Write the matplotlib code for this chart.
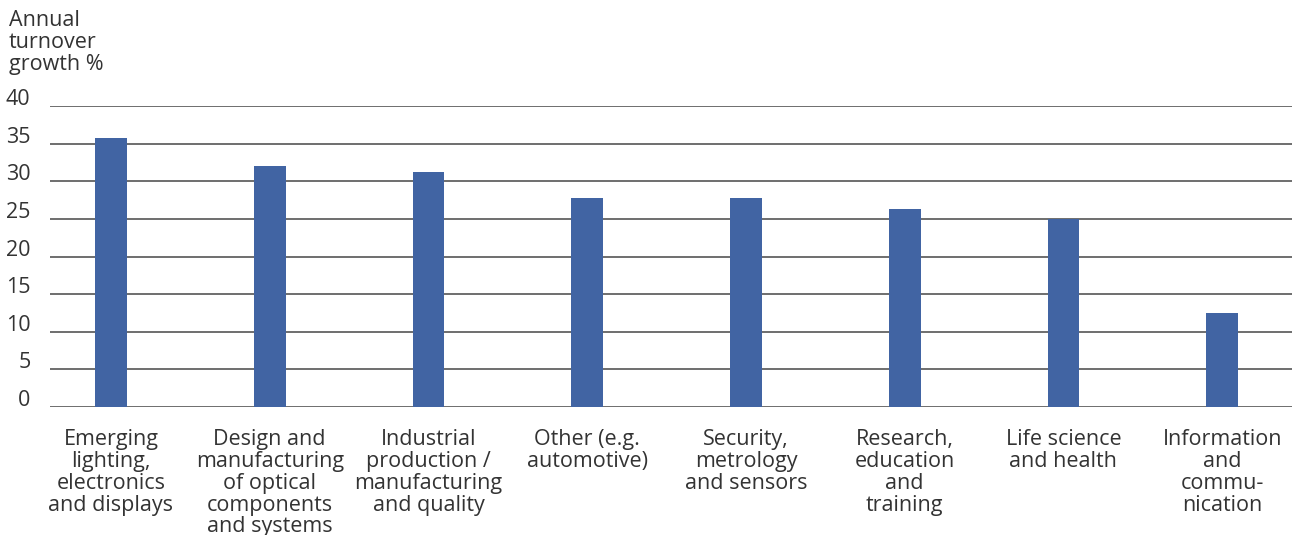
import numpy as np
import matplotlib.pyplot as plt
from matplotlib.transforms import ScaledTranslation

plt.rcParams['font.family'] = ['Open Sans', 'DejaVu Sans']

categories = [
    "Emerging\nlighting,\nelectronics\nand displays",
    "Design and\nmanufacturing\nof optical\ncomponents\nand systems",
    "Industrial\nproduction /\nmanufacturing\nand quality",
    "Other (e.g.\nautomotive)",
    "Security,\nmetrology\nand sensors",
    "Research,\neducation\nand\ntraining",
    "Life science\nand health",
    "Information\nand\ncommu-\nnication",
]
growth = [35.8, 32.0, 31.2, 27.8, 27.8, 26.3, 25.0, 12.5]
yticks = [0, 5, 10, 15, 20, 25, 30, 35, 40]

BAR_COLOR = "#4164a3"
TEXT_COLOR = "#333333"
FS = 15.5

fig = plt.figure(figsize=(13.01, 5.35), dpi=100)
ax = fig.add_axes([50 / 1301, 1 - 407 / 535, (1292 - 50) / 1301, (407 - 106) / 535])

x = np.arange(len(categories))
ax.bar(x, growth, width=0.2, color=BAR_COLOR, zorder=3)

ax.set_ylim(0, 40)
ax.set_xlim(-0.384, 7.44)
ax.set_yticks(yticks)
ax.yaxis.grid(True, color="#555555", linewidth=1.2, zorder=1)
ax.set_axisbelow(True)
for s in ax.spines.values():
    s.set_visible(False)

ax.set_xticks(x)
ax.set_xticklabels(categories, fontsize=FS, color=TEXT_COLOR, linespacing=1.05, va="top")
ax.tick_params(axis="x", length=0, pad=16)
ax.tick_params(axis="y", length=0, pad=14, labelsize=FS, labelcolor=TEXT_COLOR)

# y tick labels sit a little above their gridlines
offset = ScaledTranslation(0, 9 / 100, fig.dpi_scale_trans)
for lab in ax.get_yticklabels():
    lab.set_transform(lab.get_transform() + offset)

fig.text(9 / 1301, 1 - 10 / 535, "Annual\nturnover\ngrowth %", ha="left", va="top",
         fontsize=FS, color=TEXT_COLOR, linespacing=1.05)

fig.savefig("out.png", dpi=100)
